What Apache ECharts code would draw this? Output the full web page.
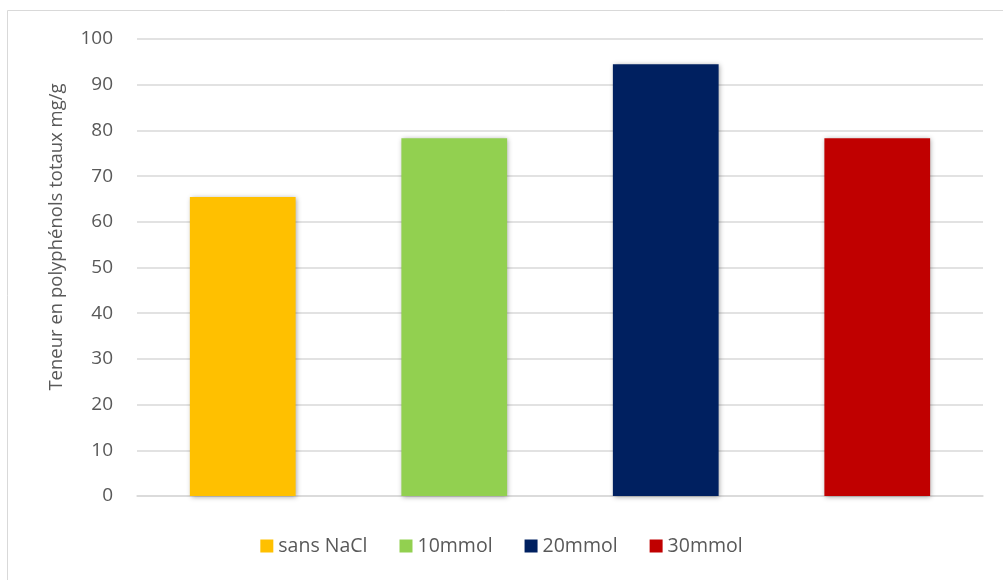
<!DOCTYPE html>
<html>
<head>
<meta charset="utf-8">
<script src="https://cdn.jsdelivr.net/npm/echarts@6/dist/echarts.min.js"></script>
<style>html,body{margin:0;padding:0;background:#fff;}#c{width:1003px;height:580px;}</style>
</head>
<body>
<div id="c"></div>
<script>
const categories = ['sans NaCl', '10mmol', '20mmol', '30mmol'];
const values = [65.4, 78.3, 94.5, 78.3];
const colors = ['#FFC000', '#92D050', '#002060', '#C00000'];
const yTicks = [0, 10, 20, 30, 40, 50, 60, 70, 80, 90, 100];
const yTitle = 'Teneur en polyphénols totaux mg/g';

const FONT = 'Open Sans, Liberation Sans, sans-serif';
const chart = echarts.init(document.getElementById('c'));
const series = categories.map((name, i) => ({
  name: name,
  type: 'bar',
  stack: 'all',
  barWidth: '50%',
  data: categories.map((_, j) => j === i ? values[i] : '-'),
  itemStyle: {
    color: colors[i],
    shadowBlur: 5,
    shadowColor: 'rgba(0,0,0,0.35)',
    shadowOffsetX: 1,
    shadowOffsetY: 1
  }
}));
chart.setOption({
  animation: false,
  color: colors,
  graphic: [{
    type: 'rect',
    shape: { x: 7.5, y: 10.5, width: 1100, height: 700 },
    style: { fill: 'none', stroke: '#D9D9D9', lineWidth: 1 },
    silent: true
  }, {
    type: 'text',
    x: 57, y: 237,
    rotation: Math.PI / 2,
    style: {
      text: yTitle,
      fill: '#595959',
      font: '18.5px ' + FONT,
      align: 'center',
      verticalAlign: 'middle'
    },
    silent: true
  }],
  grid: { left: 137, right: 20, top: 39, bottom: 84 },
  legend: {
    bottom: 19,
    left: 'center',
    itemWidth: 13,
    itemHeight: 13,
    itemGap: 32,
    icon: 'rect',
    textStyle: { color: '#595959', fontSize: 19.5, fontFamily: FONT },
    data: categories
  },
  xAxis: {
    type: 'category',
    data: categories,
    axisLine: { show: true, lineStyle: { color: '#D9D9D9', width: 1.5 } },
    axisTick: { show: false },
    axisLabel: { show: false }
  },
  yAxis: {
    type: 'value',
    min: yTicks[0],
    max: yTicks[yTicks.length - 1],
    interval: 10,
    axisLine: { show: false },
    axisTick: { show: false },
    axisLabel: { color: '#595959', fontSize: 19, margin: 24, fontFamily: FONT },
    splitLine: { lineStyle: { color: '#D9D9D9', width: 1.5 } }
  },
  series: series
});
</script>
</body>
</html>
